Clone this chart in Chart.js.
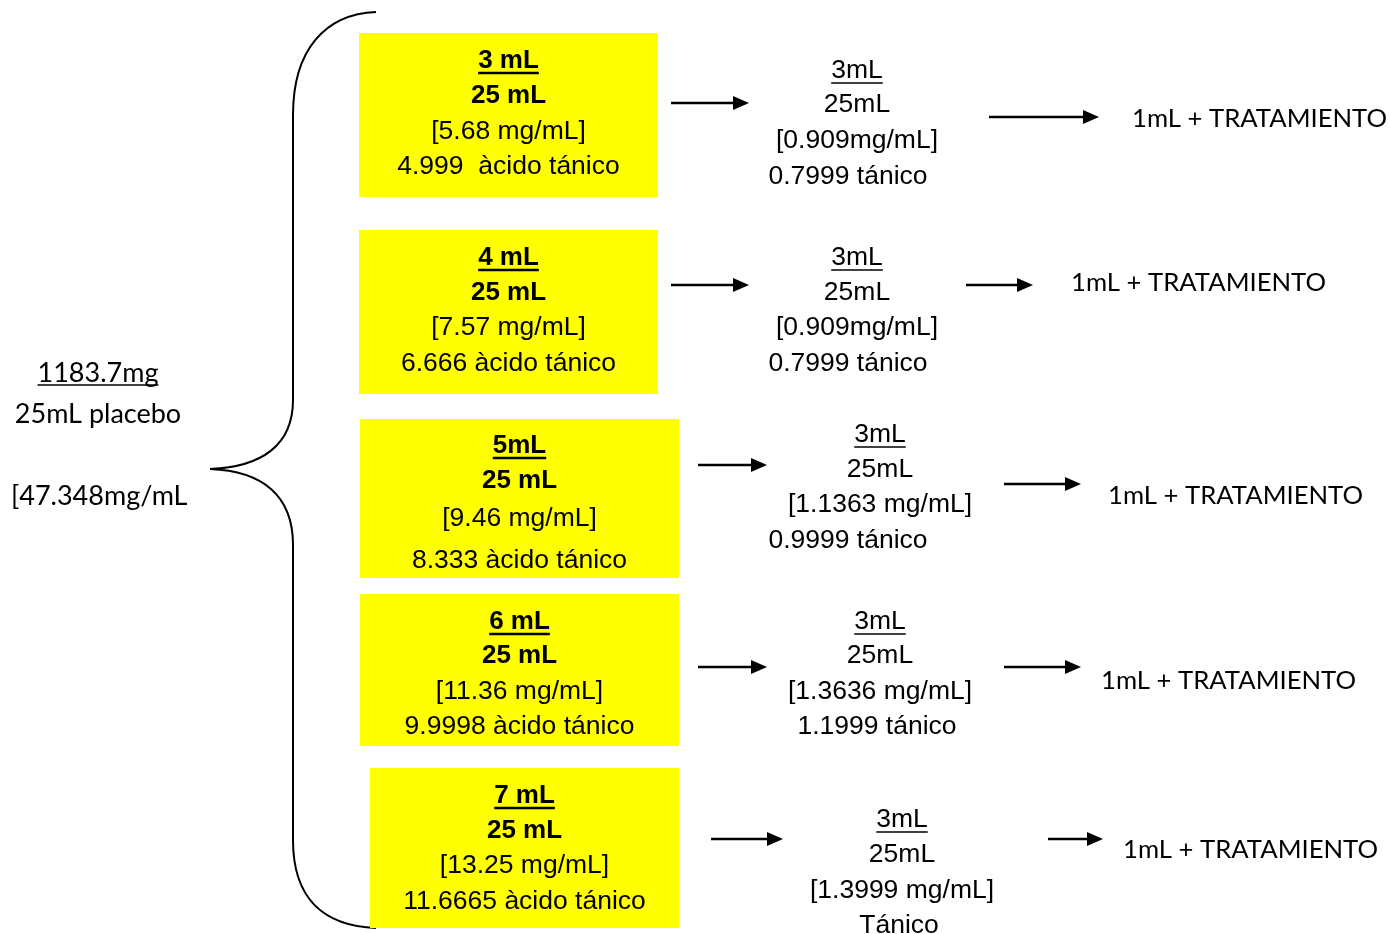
<!DOCTYPE html>
<html>
<head>
<meta charset="utf-8">
<script src="https://cdn.jsdelivr.net/npm/chart.js@4.4.0/dist/chart.umd.min.js"></script>
<style>
  body { margin: 0; background: #fff; }
  #wrap { width: 1390px; height: 934px; }
</style>
</head>
<body>
<div id="wrap"><canvas id="diagram"></canvas></div>
<script>
// stock solution
const stockLines = ['1183.7mg', '25mL placebo', '[47.348mg/mL'];

// first dilution (yellow boxes)
const volumes = ['3 mL', '4 mL', '5mL', '6 mL', '7 mL'];
const totalVolume = ['25 mL', '25 mL', '25 mL', '25 mL', '25 mL'];
const concentrations = ['[5.68 mg/mL]', '[7.57 mg/mL]', '[9.46 mg/mL]', '[11.36 mg/mL]', '[13.25 mg/mL]'];
const tannicAmounts = ['4.999  àcido tánico', '6.666 àcido tánico', '8.333 àcido tánico', '9.9998 àcido tánico', '11.6665 àcido tánico'];

// second dilution
const dilVolumes = ['3mL', '3mL', '3mL', '3mL', '3mL'];
const dilTotal = ['25mL', '25mL', '25mL', '25mL', '25mL'];
const dilConcentrations = ['[0.909mg/mL]', '[0.909mg/mL]', '[1.1363 mg/mL]', '[1.3636 mg/mL]', '[1.3999 mg/mL]'];
const dilTannic = ['0.7999 tánico', '0.7999 tánico', '0.9999 tánico', '1.1999 tánico', 'Tánico'];

const finalLabels = ['1mL + TRATAMIENTO', '1mL + TRATAMIENTO', '1mL + TRATAMIENTO', '1mL + TRATAMIENTO', '1mL + TRATAMIENTO'];

// layout (diagram units, same as pixels of the 1390x934 frame)
const boxes = [
  { x0: 359, x1: 658, y0: 33, y1: 197, lines: [59, 94, 130, 165] },
  { x0: 359, x1: 658, y0: 230, y1: 394, lines: [256, 291, 326, 362] },
  { x0: 360, x1: 679, y0: 419, y1: 578, lines: [444, 479, 517, 559] },
  { x0: 360, x1: 679, y0: 594, y1: 746, lines: [620, 654, 690, 725] },
  { x0: 370, x1: 679, y0: 768, y1: 928, lines: [794, 829, 864, 900] }
];
const middle = [
  { cx: 857, lastCx: 848, lines: [69, 103, 139, 175] },
  { cx: 857, lastCx: 848, lines: [256, 291, 326, 362] },
  { cx: 880, lastCx: 848, lines: [433, 468, 503, 539] },
  { cx: 880, lastCx: 877, lines: [620, 654, 690, 725] },
  { cx: 902, lastCx: 899, lines: [818, 853, 889, 924] }
];
const arrows1 = [[671, 749, 103], [671, 749, 285], [698, 767, 465], [698, 767, 667], [711, 783, 839]];
const arrows2 = [[989, 1099, 117], [966, 1033, 285], [1004, 1081, 484], [1004, 1081, 667], [1048, 1103, 839]];
const finalPos = [[1132, 117], [1071, 281], [1108, 494], [1101, 679], [1123, 848]];

const arial = '"Liberation Sans", Arial, sans-serif';
const calibri = 'Lato, "Open Sans", sans-serif';

const diagramPlugin = {
  id: 'diagram',
  afterDraw(chart) {
    const ctx = chart.ctx;
    const sx = chart.scales.x, sy = chart.scales.y;
    const px = v => sx.getPixelForValue(v);
    const py = v => sy.getPixelForValue(v);

    function text(str, x, y, font, align, underline) {
      ctx.save();
      ctx.font = font;
      ctx.fillStyle = '#000';
      ctx.textAlign = align;
      ctx.textBaseline = 'middle';
      const ty = py(y) + 2;
      ctx.fillText(str, px(x), ty);
      if (underline) {
        const w = ctx.measureText(str).width;
        let left = px(x);
        if (align === 'center') left -= w / 2;
        ctx.strokeStyle = '#000';
        ctx.lineWidth = underline;
        ctx.beginPath();
        ctx.moveTo(left, ty + 12);
        ctx.lineTo(left + w, ty + 12);
        ctx.stroke();
      }
      ctx.restore();
    }

    function arrow(x0, x1, y) {
      ctx.save();
      ctx.strokeStyle = '#000';
      ctx.fillStyle = '#000';
      ctx.lineWidth = 2.5;
      ctx.beginPath();
      ctx.moveTo(px(x0), py(y));
      ctx.lineTo(px(x1) - 12, py(y));
      ctx.stroke();
      ctx.beginPath();
      ctx.moveTo(px(x1), py(y));
      ctx.lineTo(px(x1) - 16, py(y) - 7);
      ctx.lineTo(px(x1) - 16, py(y) + 7);
      ctx.closePath();
      ctx.fill();
      ctx.restore();
    }

    // brace
    ctx.save();
    ctx.strokeStyle = '#000';
    ctx.lineWidth = 2;
    ctx.beginPath();
    ctx.moveTo(px(376), py(12));
    ctx.bezierCurveTo(px(325), py(14), px(293), py(50), px(293), py(115));
    ctx.lineTo(px(293), py(400));
    ctx.bezierCurveTo(px(293), py(445), px(262), py(467), px(210), py(469));
    ctx.bezierCurveTo(px(262), py(471), px(293), py(495), px(293), py(545));
    ctx.lineTo(px(293), py(840));
    ctx.bezierCurveTo(px(293), py(900), px(325), py(926), px(376), py(928));
    ctx.stroke();
    ctx.restore();

    // stock
    text(stockLines[0], 98, 371, '27px ' + calibri, 'center', 1.5);
    text(stockLines[1], 98, 412, '27px ' + calibri, 'center');
    text(stockLines[2], 11, 494, '27px ' + calibri, 'left');

    boxes.forEach((b, i) => {
      ctx.fillStyle = '#ffff00';
      ctx.fillRect(px(b.x0), py(b.y0), px(b.x1) - px(b.x0), py(b.y1) - py(b.y0));
      const cx = (b.x0 + b.x1) / 2;
      text(volumes[i], cx, b.lines[0], 'bold 26px ' + arial, 'center', 2.5);
      text(totalVolume[i], cx, b.lines[1], 'bold 26px ' + arial, 'center');
      text(concentrations[i], cx, b.lines[2], '26.5px ' + arial, 'center');
      text(tannicAmounts[i], cx, b.lines[3], '26.5px ' + arial, 'center');

      const m = middle[i];
      text(dilVolumes[i], m.cx, m.lines[0], '26.5px ' + arial, 'center', 1.5);
      text(dilTotal[i], m.cx, m.lines[1], '26.5px ' + arial, 'center');
      text(dilConcentrations[i], m.cx, m.lines[2], '26.5px ' + arial, 'center');
      text(dilTannic[i], m.lastCx, m.lines[3], '26.5px ' + arial, 'center');

      arrow(arrows1[i][0], arrows1[i][1], arrows1[i][2]);
      arrow(arrows2[i][0], arrows2[i][1], arrows2[i][2]);
      text(finalLabels[i], finalPos[i][0], finalPos[i][1], '25.7px ' + calibri, 'left');
    });
  }
};

new Chart(document.getElementById('diagram'), {
  type: 'scatter',
  data: { datasets: [{ data: [], pointRadius: 0 }] },
  options: {
    responsive: true,
    maintainAspectRatio: false,
    animation: false,
    layout: { padding: 0 },
    plugins: { legend: { display: false }, tooltip: { enabled: false } },
    scales: {
      x: { type: 'linear', min: 0, max: 1390, display: false },
      y: { type: 'linear', min: 0, max: 934, reverse: true, display: false }
    }
  },
  plugins: [diagramPlugin]
});
</script>
</body>
</html>
